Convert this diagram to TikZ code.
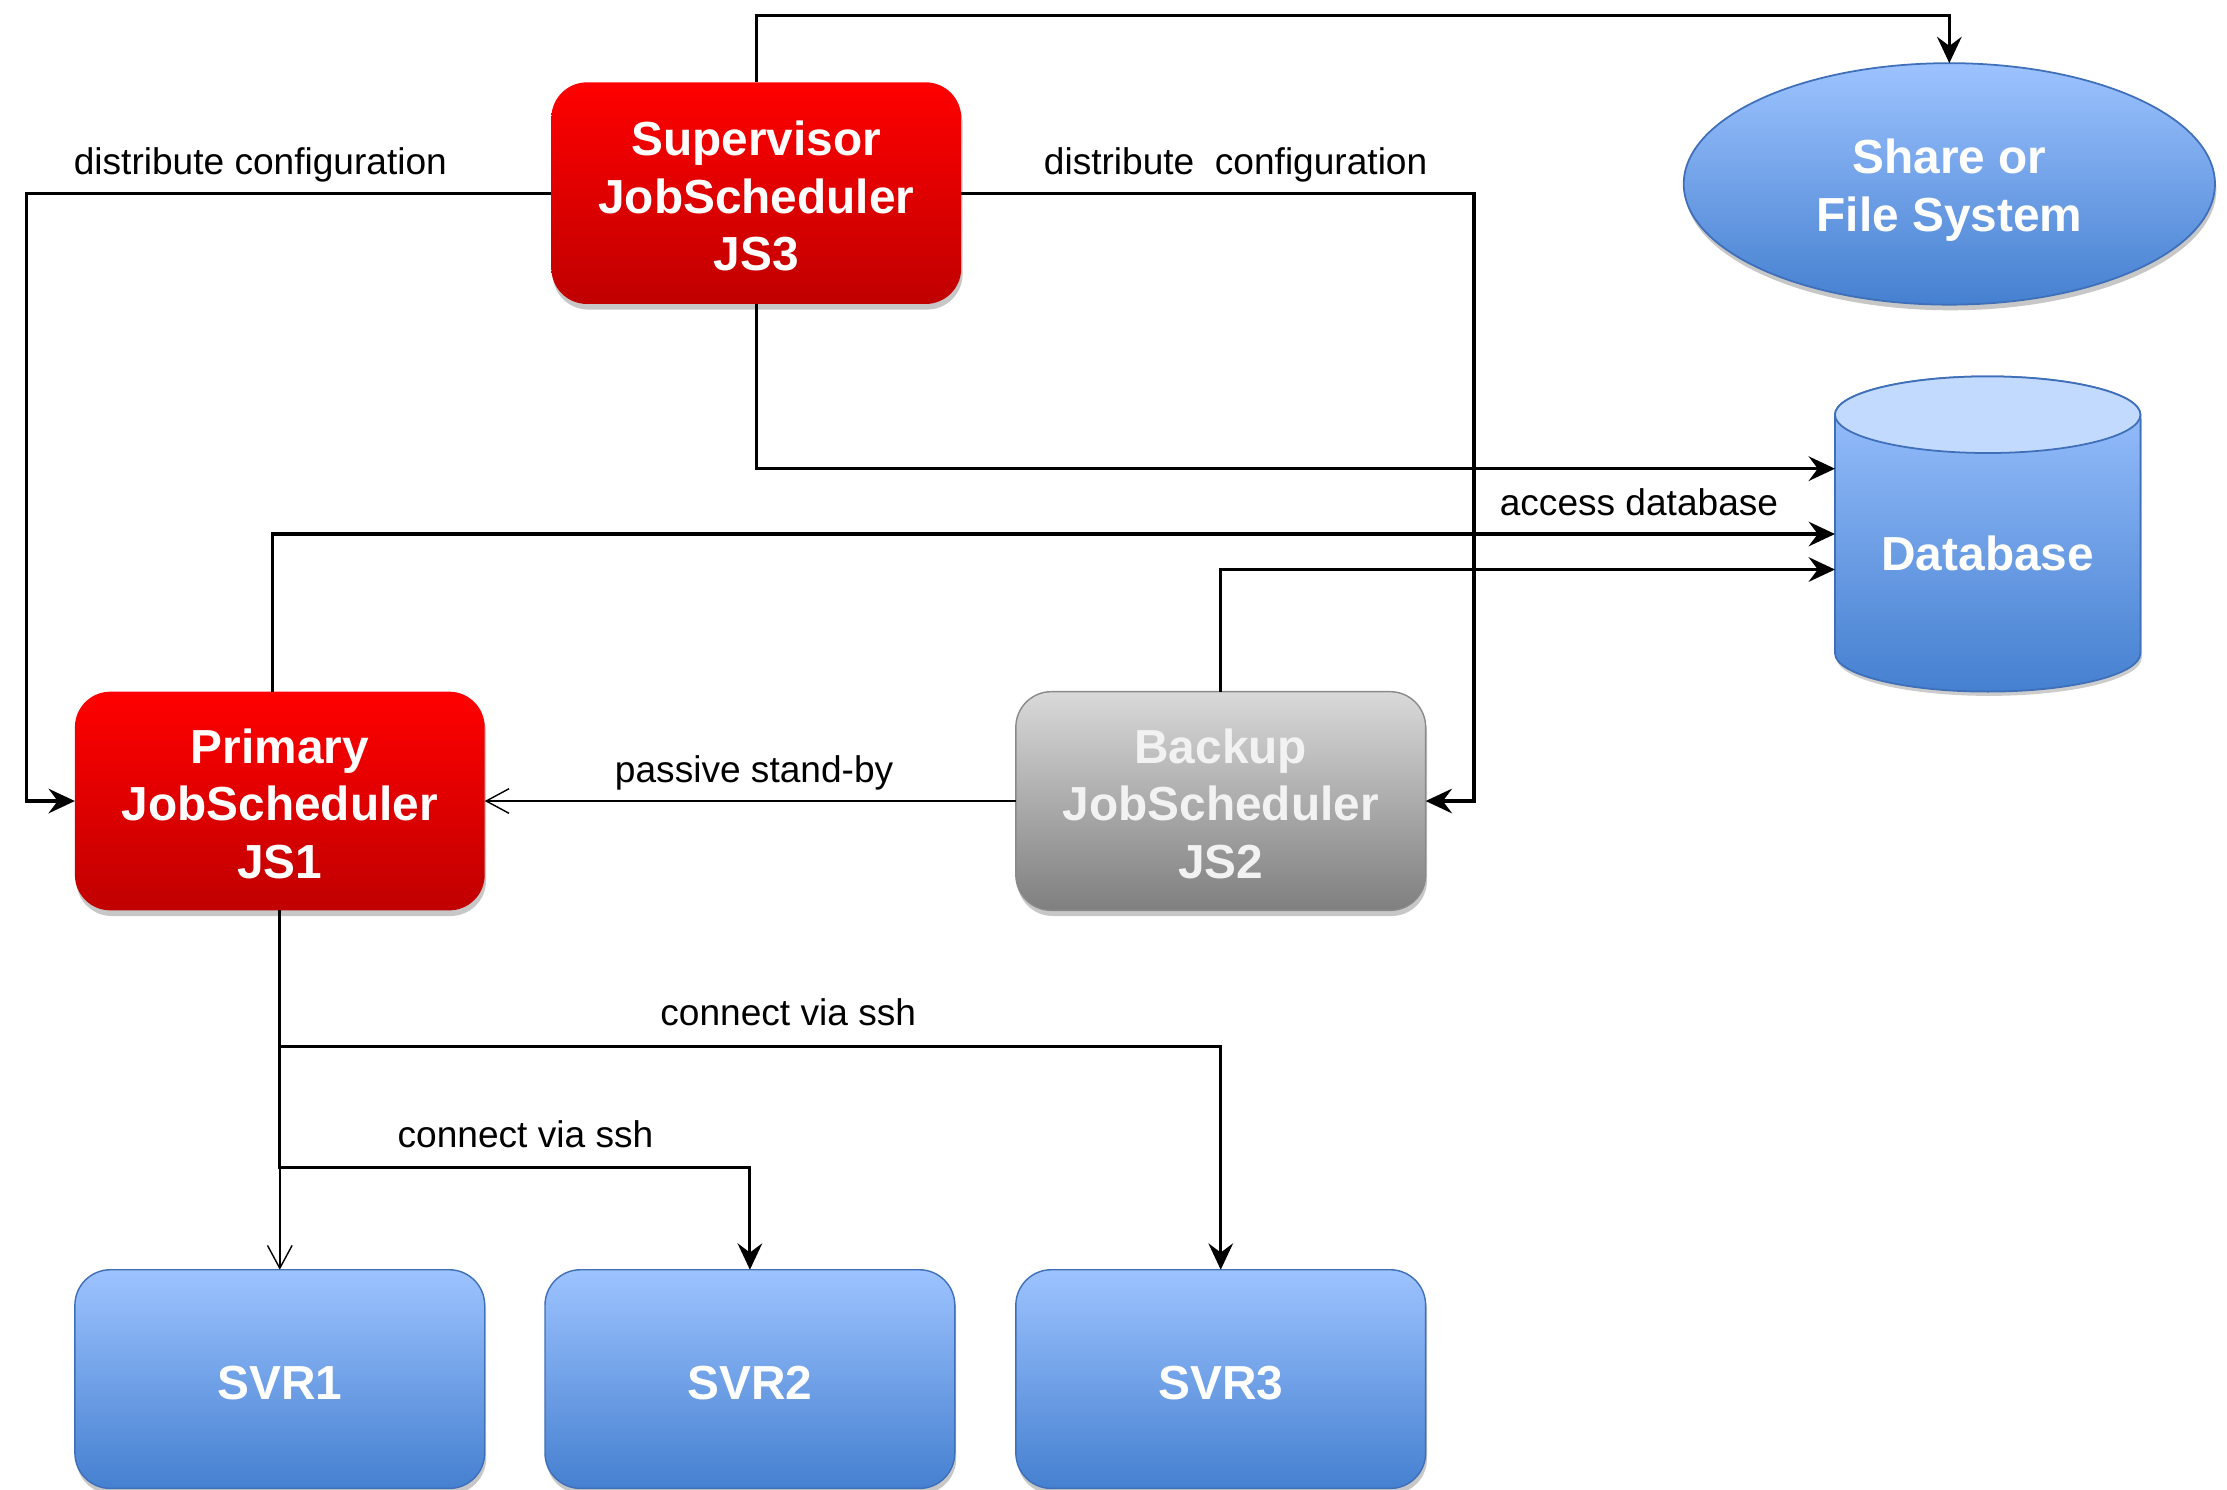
\documentclass[tikz,border=0pt]{standalone}
\usepackage{fontspec}
\setmainfont{Liberation Sans}
\usetikzlibrary{arrows.meta,shapes.geometric,shadows,calc}
\definecolor{rtop}{HTML}{FF0000}
\definecolor{rbot}{HTML}{C00000}
\definecolor{gtop}{HTML}{D9D9D9}
\definecolor{gbot}{HTML}{7F7F7F}
\definecolor{gline}{HTML}{8A8A8A}
\definecolor{btop}{HTML}{9DC3FF}
\definecolor{bbot}{HTML}{4580D0}
\definecolor{bline}{HTML}{3F6FB8}
\definecolor{dbtop}{HTML}{C3DAFF}
\newcommand{\lowtext}[2]{\raisebox{-#1}[\height][\depth]{\begin{tabular}{@{}c@{}}#2\end{tabular}}}
\begin{document}
\begin{tikzpicture}[x=0.14203mm,y=-0.14203mm,
  every node/.style={outer sep=0pt},
  shd/.style={drop shadow={shadow xshift=0.4pt,shadow yshift=-1.6pt,opacity=0.22,fill=black}},
  box/.style={rectangle,rounded corners=3.55mm,minimum width=40.98mm,minimum height=21.87mm,
    inner sep=0pt,align=center,text=white,
    font=\fontsize{13.6}{16.4}\selectfont\bfseries,shd},
  redbox/.style={box,top color=rtop,bottom color=rbot,draw=none},
  graybox/.style={box,top color=gtop,bottom color=gbot,draw=gline,line width=0.4pt,text=white!95!black},
  bluebox/.style={box,top color=btop,bottom color=bbot,draw=bline,line width=0.4pt},
  fsell/.style={ellipse,minimum width=53.12mm,minimum height=24.15mm,inner sep=0pt,align=center,
    top color=btop,bottom color=bbot,draw=bline,line width=0.5pt,text=white,
    font=\fontsize{13.6}{16.4}\selectfont\bfseries,shd},
  dbnode/.style={rectangle,minimum width=30.54mm,minimum height=27.70mm,inner sep=0pt,
    text=white,font=\fontsize{13.6}{16.4}\selectfont\bfseries},
  lbl/.style={inner sep=0pt,anchor=base west,font=\fontsize{10.55}{12.7}\selectfont},
  conn/.style={draw=black,line width=0.9pt},
  arr/.style={conn,-{Stealth[length=7.5pt,width=7pt,inset=2.6pt]}},
  thinarr/.style={draw=black,line width=0.4pt,-{Straight Barb[length=6.5pt,width=7pt]}}
]
\useasboundingbox (0,0) rectangle (1568,1048.4);

% database cylinder (drawn shape)
\fill[black,opacity=0.2] (1293,295) -- (1293,463) arc[start angle=180,end angle=360,x radius=15.27mm,y radius=3.83mm] -- (1508,295) -- cycle;
\shade[top color=btop,bottom color=bbot,draw=bline,line width=0.5pt]
  (1292,292) -- (1292,460) arc[start angle=180,end angle=360,x radius=15.27mm,y radius=3.83mm]
  -- (1507,292) arc[start angle=0,end angle=180,x radius=15.27mm,y radius=3.83mm] -- cycle;
\draw[fill=dbtop,draw=bline,line width=0.5pt] (1399.5,292) ellipse[x radius=15.27mm,y radius=3.83mm];

% nodes
\node[redbox,minimum height=22.16mm] (js3) at (532.5,136) {\lowtext{2.4pt}{Supervisor\\JobScheduler\\JS3}};
\node[fsell] (fs) at (1372.5,129.5) {\lowtext{2.0pt}{Share or\\File System}};
\node[dbnode] (db) at (1399.5,389.5) {Database};
\node[redbox] (js1) at (197,564) {\lowtext{2.4pt}{Primary\\JobScheduler\\JS1}};
\node[graybox] (js2) at (859.5,564) {\lowtext{2.4pt}{Backup\\JobScheduler\\JS2}};
\node[bluebox] (s1) at (197,971) {\lowtext{2.4pt}{SVR1}};
\node[bluebox] (s2) at (528,971) {\lowtext{2.4pt}{SVR2}};
\node[bluebox] (s3) at (859.5,971) {\lowtext{2.4pt}{SVR3}};

% connectors
\draw[arr] (js3.north) -- ++(0,-47) -| (fs.north);
\draw[arr] (js3.west) -| ($(js1.west)+(-34,0)$) -- (js1.west);
\draw[arr] (js3.east) -| ($(js2.east)+(34,0)$) -- (js2.east);
\draw[arr] (js3.south) |- (db.west |- 0,330);
\draw[arr] ($(js1.north)+(-5,0)$) |- (db.west |- 0,376);
\draw[arr] (js2.north) |- (db.west |- 0,401);
\draw[thinarr] (js2.west) -- (js1.east);
\draw[thinarr] (js1.south) -- (s1.north);
\draw[arr] (js1.south) -- ++(0,96) -| (s3.north);
\draw[arr] (js1.south) -- ++(0,181) -| (s2.north);

% labels
\node[lbl] (l1) at (52,123) {distribute configuration};
\node[lbl] (l2) at (735,123) {distribute~ configuration};
\node[lbl] (l3) at (1056,363) {access database};
\node[lbl] (l4) at (433,551) {passive stand-by};
\node[lbl] (l5) at (465,722) {connect via ssh};
\node[lbl] (l6) at (280,808) {connect via ssh};
\end{tikzpicture}
\end{document}
